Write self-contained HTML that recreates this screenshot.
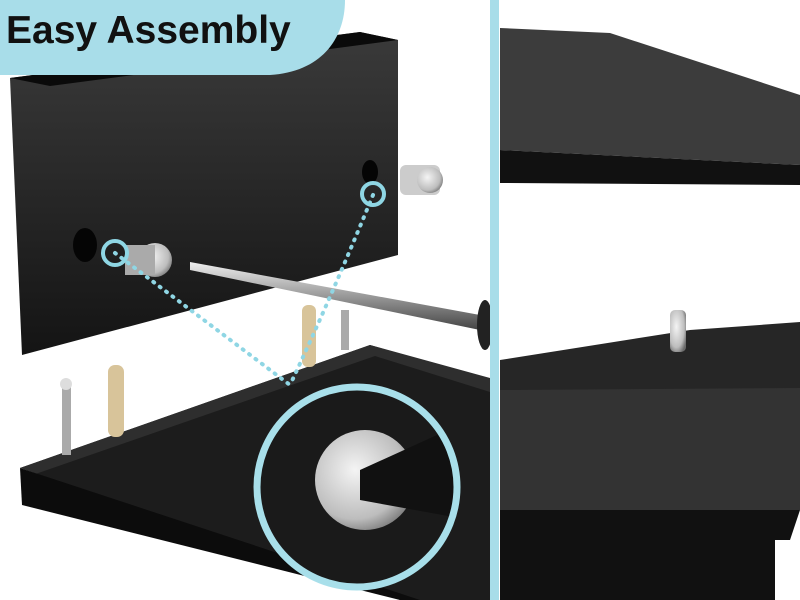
<!DOCTYPE html>
<html><head><meta charset="utf-8"><style>
html,body{margin:0;padding:0;width:800px;height:600px;overflow:hidden;background:#fff}
</style></head><body>
<svg width="800" height="600" viewBox="0 0 800 600" xmlns="http://www.w3.org/2000/svg">
<defs>
<linearGradient id="bd" x1="0" y1="0" x2="0" y2="1"><stop offset="0" stop-color="#3a3a3a"/><stop offset="1" stop-color="#141414"/></linearGradient>
<radialGradient id="sil" cx="0.4" cy="0.4" r="0.7"><stop offset="0" stop-color="#f4f4f4"/><stop offset="0.7" stop-color="#bdbdbd"/><stop offset="1" stop-color="#6a6a6a"/></radialGradient>
<linearGradient id="rod" x1="0" y1="0" x2="0" y2="1"><stop offset="0" stop-color="#eee"/><stop offset="0.5" stop-color="#999"/><stop offset="1" stop-color="#444"/></linearGradient>
<clipPath id="lens"><circle cx="357" cy="487" r="98"/></clipPath>
</defs>
<rect width="800" height="600" fill="#fff"/>
<!-- bottom shelf left -->
<polygon points="20,468 370,345 490,380 490,600 400,600 20,510" fill="#1c1c1c"/>
<polygon points="20,468 370,345 490,378 490,392 375,356 24,478" fill="#2e2e2e"/>
<polygon points="20,468 400,600 20,600" fill="#fff"/>
<polygon points="20,468 420,600 400,600 22,505" fill="#0c0c0c"/>
<!-- upper board -->
<polygon points="10,78 360,32 398,40 398,255 22,355" fill="url(#bd)"/>
<polygon points="10,78 360,32 398,40 50,86" fill="#0a0a0a"/>
<ellipse cx="85" cy="245" rx="12" ry="17" fill="#050505"/>
<ellipse cx="370" cy="172" rx="8" ry="12" fill="#050505"/>
<!-- cam lock pieces -->
<rect x="400" y="165" width="40" height="30" rx="6" fill="#ccc"/>
<circle cx="430" cy="180" r="13" fill="url(#sil)"/>
<circle cx="155" cy="260" r="17" fill="url(#sil)"/>
<rect x="125" y="245" width="30" height="30" fill="#aaa"/>
<!-- rod -->
<polygon points="190,262 480,315 480,330 190,270" fill="url(#rod)"/>
<ellipse cx="485" cy="325" rx="8" ry="25" fill="#222"/>
<!-- dowels and bolts -->
<rect x="302" y="305" width="14" height="62" rx="6" fill="#d8c49a"/>
<rect x="108" y="365" width="16" height="72" rx="7" fill="#d8c49a"/>
<rect x="341" y="310" width="8" height="40" fill="#aaa"/>
<rect x="62" y="385" width="9" height="70" fill="#aaa"/>
<circle cx="66" cy="384" r="6" fill="#ddd"/>
<!-- dotted lines -->
<path d="M115,253 L290,385" stroke="#8fd6e4" stroke-width="4" stroke-dasharray="1 7" stroke-linecap="round" fill="none"/>
<path d="M373,195 Q330,300 290,385" stroke="#8fd6e4" stroke-width="4" stroke-dasharray="1 7" stroke-linecap="round" fill="none"/>
<circle cx="115" cy="253" r="12" fill="none" stroke="#8fd6e4" stroke-width="4"/>
<circle cx="373" cy="194" r="11" fill="none" stroke="#8fd6e4" stroke-width="4"/>
<!-- lens -->
<g clip-path="url(#lens)">
<rect x="250" y="380" width="220" height="220" fill="#1a1a1a"/>
<circle cx="365" cy="480" r="50" fill="url(#sil)"/>
<polygon points="360,470 470,420 470,520 360,500" fill="#111"/>
</g>
<circle cx="357" cy="487" r="100" fill="none" stroke="#a8dfea" stroke-width="7"/>
<!-- divider -->
<rect x="490" y="0" width="9" height="600" fill="#a8dde9"/>
<!-- right top shelf -->
<polygon points="500,28 610,33 800,95 800,165 500,150" fill="#3c3c3c"/>
<polygon points="500,150 800,165 800,185 500,183" fill="#111"/>
<!-- right bottom shelf -->
<polygon points="500,360 690,330 800,322 800,390 500,390" fill="#262626"/>
<polygon points="500,390 800,388 800,510 500,510" fill="#333"/>
<polygon points="500,510 800,510 790,540 775,540 775,600 500,600" fill="#111"/>
<rect x="670" y="310" width="16" height="42" rx="5" fill="url(#sil)"/>
<!-- label -->
<path d="M0,0 H345 C345,40 320,72 270,75 H0 Z" fill="#a8dde9"/>
<text x="6" y="43" font-family="Liberation Sans, sans-serif" font-weight="bold" font-size="39" fill="#111">Easy Assembly</text>
</svg>
</body></html>
